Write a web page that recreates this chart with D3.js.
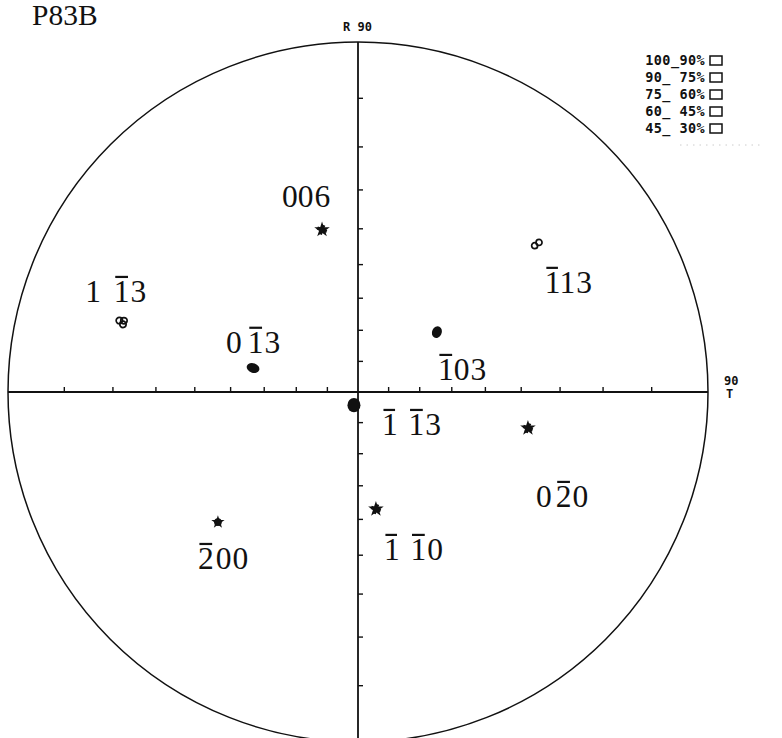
<!DOCTYPE html>
<html>
<head>
<meta charset="utf-8">
<script src="https://cdn.jsdelivr.net/npm/d3@7"></script>
<style>
  html, body { margin: 0; padding: 0; background: #fff; }
  svg { display: block; }
  .hkl { font-family: "Liberation Serif", "Times New Roman", serif; font-size: 31.5px; fill: #111; }
  .pix { font-family: "DejaVu Sans Mono", monospace; font-weight: bold; fill: #111; }
</style>
</head>
<body>
<svg id="chart" width="782" height="738"></svg>
<script>
// Pole figure P83B: each pole by Miller indices, tilt from centre (psi) and azimuth (phi), degrees.
const poleHKL     = [[0,0,6], [1,-1,3], [0,-1,3], [-1,1,3], [-1,0,3], [-1,-1,3], [0,-2,0], [-1,-1,0], [-2,0,0]];
const poleTilt    = [50.8, 70.2, 34.2, 67.1, 31.6, 4.5, 52.8, 37.4, 57.3];
const poleAzimuth = [102.5, 163.5, 167.1, 39.6, 37.2, 252.9, 348.0, 278.7, 222.9];

// Graduations along the diameters every 10 degrees of tilt.
const tickAngles = [10, 20, 30, 40, 50, 60, 70, 80];

// Intensity classes of the legend.
const legendLabels = ["100_90%", "90_ 75%", "75_ 60%", "60_ 45%", "45_ 30%"];

const chartTitle = "P83B";
const topAxisLabel = "R 90";
const rightAxisLabel = ["90", "T"];

// ---------------------------------------------------------------------------
const svg = d3.select("#chart");
const cx = 358, cy = 392, R = 350;

// Stereographic projection: radius grows with tan(tilt / 2).
const rScale = d3.scaleLinear().domain([0, 1]).range([0, R]);
const rad = d => d * Math.PI / 180;
const radius = tilt => rScale(Math.tan(rad(tilt) / 2));
const project = (tilt, az) => [cx + radius(tilt) * Math.cos(rad(az)), cy - radius(tilt) * Math.sin(rad(az))];

// Title
svg.append("text")
  .attr("x", 32).attr("y", 25)
  .attr("font-family", "Liberation Serif, serif")
  .attr("font-size", 29.5)
  .attr("fill", "#111")
  .text(chartTitle);

// Primitive circle
svg.append("circle")
  .attr("cx", cx).attr("cy", cy).attr("r", R)
  .attr("fill", "none").attr("stroke", "#111").attr("stroke-width", 1.5);

// Diameters
svg.append("line").attr("x1", cx - R).attr("x2", cx + R).attr("y1", cy).attr("y2", cy)
  .attr("stroke", "#111").attr("stroke-width", 1.8);
svg.append("line").attr("x1", cx).attr("x2", cx).attr("y1", cy - R).attr("y2", cy + R)
  .attr("stroke", "#111").attr("stroke-width", 1.8);

// Tick marks: upward on the horizontal diameter, rightward on the vertical one.
const ticks = svg.append("g").attr("stroke", "#111").attr("stroke-width", 1.4);
tickAngles.forEach(a => {
  const r = radius(a);
  [-1, 1].forEach(s => {
    ticks.append("line").attr("x1", cx + s * r).attr("x2", cx + s * r).attr("y1", cy).attr("y2", cy - 5);
    ticks.append("line").attr("x1", cx).attr("x2", cx + 5).attr("y1", cy + s * r).attr("y2", cy + s * r);
  });
});

// Axis names
svg.append("text").attr("class", "pix").attr("font-size", 12)
  .attr("x", 343).attr("y", 31).text(topAxisLabel);
svg.append("text").attr("class", "pix").attr("font-size", 12)
  .attr("x", 724).attr("y", 385).text(rightAxisLabel[0]);
svg.append("text").attr("class", "pix").attr("font-size", 12)
  .attr("x", 726).attr("y", 398).text(rightAxisLabel[1]);

// Legend
const legend = svg.append("g");
legendLabels.forEach((lab, i) => {
  const y = 60 + i * 17;
  legend.append("text").attr("class", "pix").attr("font-size", 13.5)
    .attr("letter-spacing", 0.4)
    .attr("text-anchor", "end").attr("x", 705).attr("y", y + 5).text(lab);
  legend.append("rect").attr("x", 710).attr("y", y - 4).attr("width", 12).attr("height", 9)
    .attr("fill", "none").attr("stroke", "#111").attr("stroke-width", 1.5);
});
legend.append("line").attr("x1", 680).attr("x2", 764).attr("y1", 145).attr("y2", 145)
  .attr("stroke", "#ccc").attr("stroke-width", 1).attr("stroke-dasharray", "1.5,5");

// Pole marker shapes
const markerKind = ["star", "rings3", "oval", "rings2", "blob", "disk", "star", "star", "dot"];
function drawMarker(g, kind) {
  if (kind === "star") {
    g.append("path").attr("d", d3.symbol(d3.symbolStar).size(75)()).attr("fill", "#111");
    g.append("path").attr("d", d3.symbol(d3.symbolCross).size(55)()).attr("fill", "#111")
      .attr("transform", "rotate(20)");
  } else if (kind === "dot") {
    g.append("path").attr("d", d3.symbol(d3.symbolStar).size(55)()).attr("fill", "#111");
    g.append("circle").attr("r", 3.8).attr("fill", "#111");
  } else if (kind === "rings3") {
    [[-2.8, -1.6], [1.8, -1.4], [0.8, 2.2]].forEach(([x, y]) =>
      g.append("circle").attr("cx", x).attr("cy", y).attr("r", 3.2)
        .attr("fill", "none").attr("stroke", "#111").attr("stroke-width", 1.7));
  } else if (kind === "rings2") {
    [[-2.2, 1.6], [2.2, -1.6]].forEach(([x, y]) =>
      g.append("circle").attr("cx", x).attr("cy", y).attr("r", 3)
        .attr("fill", "none").attr("stroke", "#111").attr("stroke-width", 1.7));
  } else if (kind === "oval") {
    g.append("ellipse").attr("rx", 6.5).attr("ry", 4.8).attr("transform", "rotate(20)").attr("fill", "#111");
  } else if (kind === "blob") {
    g.append("ellipse").attr("rx", 4.8).attr("ry", 6).attr("transform", "rotate(25)").attr("fill", "#111");
  } else if (kind === "disk") {
    g.append("ellipse").attr("rx", 6.5).attr("ry", 7.2).attr("fill", "#111");
  }
}

// Label placement relative to each pole: offset of the baseline start, and gap after the first index.
const labelLayout = [
  { dx: -40, dy: -23, gap: 0 },
  { dx: -37, dy: -20, gap: 14 },
  { dx: -27, dy: -15, gap: 6 },
  { dx: 8,   dy: 49,  gap: 0 },
  { dx: 1,   dy: 48,  gap: 0 },
  { dx: 28,  dy: 30,  gap: 12 },
  { dx: 8,   dy: 79,  gap: 4 },
  { dx: 8,   dy: 51,  gap: 12 },
  { dx: -20, dy: 47,  gap: 2 }
];

function drawHKL(g, hkl, x, y, gap) {
  const t = g.append("text").attr("class", "hkl").attr("x", x).attr("y", y);
  hkl.forEach((v, i) => t.append("tspan").attr("dx", i === 1 ? gap : (i === 2 ? 1 : 0)).text(Math.abs(v)));
  const fs = 31.5;
  hkl.forEach((v, i) => {
    if (v < 0) {
      const e = t.node().getExtentOfChar(i);
      g.append("line")
        .attr("x1", e.x + 1.5).attr("x2", e.x + e.width - 1.5)
        .attr("y1", y - fs * 0.8).attr("y2", y - fs * 0.8)
        .attr("stroke", "#111").attr("stroke-width", 2.2);
    }
  });
}

const poles = svg.append("g");
poleHKL.forEach((hkl, i) => {
  const [x, y] = project(poleTilt[i], poleAzimuth[i]);
  drawMarker(poles.append("g").attr("transform", `translate(${x},${y})`), markerKind[i]);
  const L = labelLayout[i];
  drawHKL(poles, hkl, x + L.dx, y + L.dy, L.gap);
});
</script>
</body>
</html>
